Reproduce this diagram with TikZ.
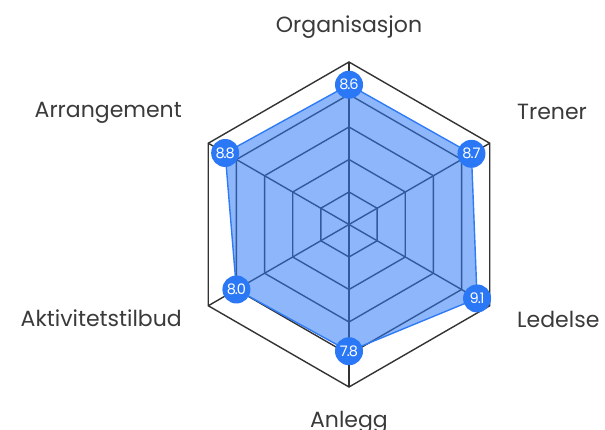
\documentclass[tikz,border=0pt]{standalone}
\usepackage{fontspec}
\setmainfont{Poppins}
\definecolor{gridc}{HTML}{333333}
\definecolor{areablue}{HTML}{2F7BF5}
\definecolor{dotblue}{HTML}{2B78F6}
\definecolor{labelc}{HTML}{3A3A3A}
\tikzset{
  gridline/.style={draw=gridc, line width=1.4pt, line join=miter},
  area/.style={fill=areablue, fill opacity=0.55, draw=areablue, draw opacity=1, line width=1.4pt, line join=round},
  valdot/.style={circle, fill=dotblue, minimum size=28pt, inner sep=0pt, text=white, font=\fontsize{14.5}{15}\selectfont\addfontfeatures{LetterSpace=-7}},
  axislabel/.style={text=labelc, font=\fontsize{22}{24}\selectfont, inner sep=0pt},
}
\begin{document}
\begin{tikzpicture}[x=1pt,y=1pt]
\useasboundingbox (0,0) rectangle (605,430);
\coordinate (C) at (349,205.5);
\begin{scope}[shift={(C)}]
  \foreach \a/\n in {90/o1,30/o2,-30/o3,-90/o4,210/o5,150/o6}
    \coordinate (\n) at (\a:162.5);
  \foreach \r in {32.5,65,97.5,130}
    \draw[gridline] (90:\r) -- (30:\r) -- (-30:\r) -- (-90:\r) -- (210:\r) -- (150:\r) -- cycle;
  \draw[gridline] (o1) -- (o2) -- (o3) -- (o4) -- (o5) -- (o6) -- cycle;
  \foreach \n in {o1,o2,o3,o4,o5,o6}
    \draw[gridline] (C) -- (\n);
  \coordinate (v1) at (90:139.75);
  \coordinate (v2) at (30:141.375);
  \coordinate (v3) at (-30:147.875);
  \coordinate (v4) at (-90:126.75);
  \coordinate (v5) at (210:130);
  \coordinate (v6) at (150:143);
  \path[area] (v1) -- (v2) -- (v3) -- (v4) -- (v5) -- (v6) -- cycle;
  \node[valdot] (d1) at (v1) {8.6};
  \node[valdot] (d2) at (v2) {8.7};
  \node[valdot] (d3) at (v3) {9.1};
  \node[valdot] (d4) at (v4) {7.8};
  \node[valdot] (d5) at (v5) {8.0};
  \node[valdot] (d6) at (v6) {8.8};
\end{scope}
\node[axislabel, anchor=base] (l1) at (349,397) {Organisasjon};
\node[axislabel, anchor=base west] (l2) at (517,310) {Trener};
\node[axislabel, anchor=base west] (l3) at (517,102) {Ledelse};
\node[axislabel, anchor=base] (l4) at (349,2) {Anlegg};
\node[axislabel, anchor=base east] (l5) at (182,103) {Aktivitetstilbud};
\node[axislabel, anchor=base east] (l6) at (182,312) {Arrangement};
\end{tikzpicture}
\end{document}
